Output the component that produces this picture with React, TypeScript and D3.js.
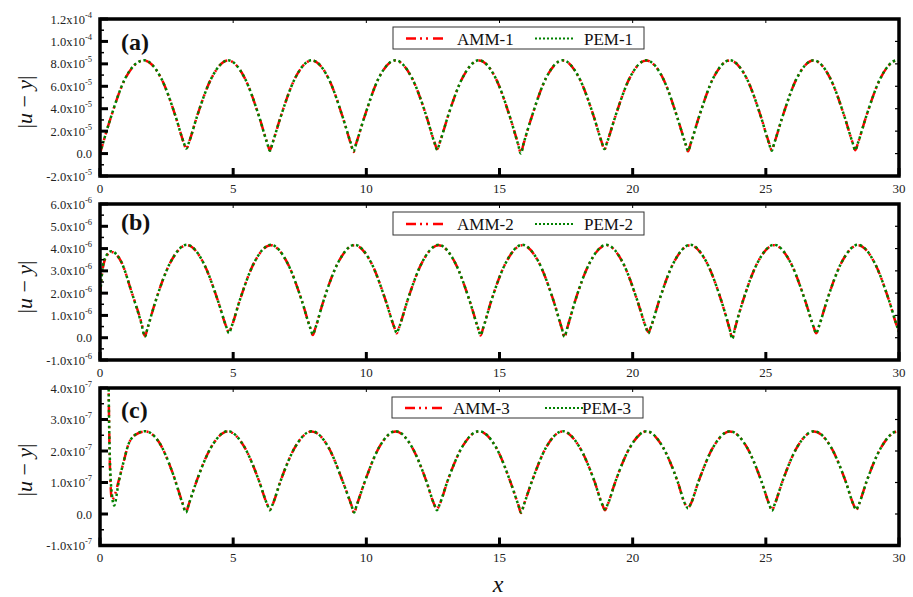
import React from "react";
import * as d3 from "d3";

// ---------- DATA ----------
const xTicks = [0, 5, 10, 15, 20, 25, 30];

// Panel (a): |u - y| in units of 1e-5
const xA = [0, 0.35, 0.95, 1.65, 2.29, 2.84, 3.14,
  3.24, 3.34, 3.64, 4.19, 4.81, 5.43, 5.98, 6.28,
  6.38, 6.48, 6.78, 7.33, 7.95, 8.57, 9.12, 9.42,
  9.52, 9.62, 9.92, 10.47, 11.09, 11.71, 12.26, 12.56,
  12.66, 12.76, 13.06, 13.61, 14.23, 14.85, 15.40, 15.70,
  15.80, 15.90, 16.20, 16.75, 17.37, 17.99, 18.54, 18.84,
  18.94, 19.04, 19.34, 19.89, 20.51, 21.13, 21.68, 21.98,
  22.08, 22.18, 22.48, 23.03, 23.65, 24.27, 24.82, 25.12,
  25.22, 25.32, 25.62, 26.17, 26.79, 27.41, 27.96, 28.26,
  28.36, 28.46, 28.76, 29.31, 29.93, 30];
const ammA = [0, 2.8, 6.7, 8.3, 6.75, 3.3, 1.0,
  0.4, 1.0, 3.3, 6.75, 8.3, 6.75, 3.25, 0.95,
  0.3, 0.95, 3.25, 6.75, 8.3, 6.75, 3.2, 0.85,
  0.15, 0.9, 3.2, 6.75, 8.3, 6.75, 3.3, 1.0,
  0.4, 1.0, 3.3, 6.75, 8.3, 6.75, 3.2, 0.85,
  0.05, 0.85, 3.2, 6.75, 8.3, 6.75, 3.3, 1.0,
  0.35, 1.0, 3.25, 6.75, 8.3, 6.75, 3.2, 0.9,
  0.2, 0.9, 3.2, 6.75, 8.3, 6.75, 3.25, 0.95,
  0.3, 0.95, 3.25, 6.75, 8.3, 6.75, 3.25, 0.95,
  0.3, 0.95, 3.25, 6.75, 8.3, 8.28];
const pemA = [0, 2.8, 6.72, 8.32, 6.75, 3.3, 1.0,
  0.45, 1.0, 3.3, 6.75, 8.32, 6.75, 3.25, 0.9,
  0.25, 0.95, 3.25, 6.75, 8.32, 6.75, 3.2, 0.9,
  0.2, 0.9, 3.2, 6.75, 8.32, 6.75, 3.3, 0.95,
  0.35, 1.0, 3.3, 6.75, 8.32, 6.75, 3.2, 0.8,
  0.0, 0.85, 3.2, 6.75, 8.32, 6.75, 3.3, 1.0,
  0.4, 1.0, 3.25, 6.75, 8.32, 6.75, 3.2, 0.9,
  0.25, 0.9, 3.2, 6.75, 8.32, 6.75, 3.25, 0.9,
  0.25, 0.95, 3.25, 6.75, 8.32, 6.75, 3.25, 0.95,
  0.3, 0.95, 3.25, 6.75, 8.32, 8.3];

// Panel (b): |u - y| in units of 1e-6
const xB = [0, 0.08, 0.2, 0.42, 0.8, 1.2, 1.55,
  1.69, 1.79, 2.09, 2.64, 3.26, 3.88, 4.43, 4.74,
  4.84, 4.94, 5.24, 5.79, 6.41, 7.03, 7.58, 7.89,
  7.99, 8.09, 8.39, 8.94, 9.56, 10.18, 10.73, 11.04,
  11.14, 11.24, 11.54, 12.09, 12.71, 13.33, 13.88, 14.19,
  14.29, 14.39, 14.69, 15.24, 15.86, 16.48, 17.03, 17.34,
  17.44, 17.54, 17.84, 18.39, 19.01, 19.63, 20.18, 20.49,
  20.59, 20.69, 20.99, 21.54, 22.16, 22.78, 23.33, 23.64,
  23.74, 23.84, 24.14, 24.69, 25.31, 25.93, 26.48, 26.79,
  26.89, 26.99, 27.29, 27.84, 28.46, 29.08, 29.63, 29.93, 30];
const ammB = [1.9, 2.9, 3.55, 3.85, 3.4, 2.0, 0.7,
  0.08, 0.45, 1.65, 3.37, 4.15, 3.37, 1.65, 0.5,
  0.25, 0.5, 1.65, 3.37, 4.15, 3.37, 1.65, 0.45,
  0.12, 0.45, 1.65, 3.37, 4.15, 3.37, 1.65, 0.5,
  0.2, 0.5, 1.65, 3.37, 4.15, 3.37, 1.65, 0.45,
  0.1, 0.45, 1.65, 3.37, 4.15, 3.37, 1.65, 0.42,
  0.02, 0.42, 1.65, 3.37, 4.15, 3.37, 1.65, 0.5,
  0.25, 0.5, 1.65, 3.37, 4.15, 3.37, 1.65, 0.4,
  0.0, 0.42, 1.65, 3.37, 4.15, 3.37, 1.65, 0.5,
  0.2, 0.5, 1.65, 3.37, 4.15, 3.37, 1.65, 0.5, 0.3];
const pemB = [1.8, 2.95, 3.6, 3.88, 3.4, 2.0, 0.65,
  0.05, 0.45, 1.65, 3.37, 4.17, 3.37, 1.65, 0.5,
  0.2, 0.5, 1.65, 3.37, 4.17, 3.37, 1.65, 0.45,
  0.15, 0.45, 1.65, 3.37, 4.17, 3.37, 1.65, 0.5,
  0.22, 0.5, 1.65, 3.37, 4.17, 3.37, 1.65, 0.45,
  0.12, 0.45, 1.65, 3.37, 4.17, 3.37, 1.65, 0.42,
  0.05, 0.42, 1.65, 3.37, 4.17, 3.37, 1.65, 0.5,
  0.2, 0.5, 1.65, 3.37, 4.17, 3.37, 1.65, 0.4,
  -0.05, 0.42, 1.65, 3.37, 4.17, 3.37, 1.65, 0.5,
  0.2, 0.5, 1.65, 3.37, 4.17, 3.37, 1.65, 0.5, 0.25];

// Panel (c): |u - y| in units of 1e-7
const xC = [0.3, 0.34, 0.38, 0.45, 0.53, 0.7, 0.9, 1.06, 1.3, 1.69, 2.2, 2.75, 3.1,
  3.23, 3.33, 3.63, 4.18, 4.80, 5.42, 5.97, 6.28,
  6.38, 6.48, 6.78, 7.33, 7.95, 8.57, 9.12, 9.44,
  9.54, 9.64, 9.94, 10.49, 11.10, 11.71, 12.25, 12.55,
  12.65, 12.75, 13.05, 13.60, 14.23, 14.86, 15.41, 15.71,
  15.81, 15.91, 16.21, 16.76, 17.38, 18.00, 18.56, 18.86,
  18.96, 19.06, 19.36, 19.91, 20.52, 21.13, 21.68, 21.98,
  22.08, 22.18, 22.48, 23.03, 23.65, 24.28, 24.83, 25.13,
  25.23, 25.33, 25.63, 26.18, 26.81, 27.44, 27.99, 28.29,
  28.39, 28.49, 28.79, 29.34, 29.96, 30];
const ammC = [6.0, 3.0, 1.3, 0.45, 0.55, 1.05, 1.7, 2.19, 2.5, 2.62, 2.3, 1.25, 0.35,
  0.06, 0.3, 1.05, 2.13, 2.62, 2.13, 1.05, 0.3,
  0.15, 0.3, 1.05, 2.13, 2.62, 2.13, 1.02, 0.28,
  0.03, 0.28, 1.02, 2.13, 2.62, 2.13, 1.05, 0.3,
  0.15, 0.3, 1.05, 2.13, 2.62, 2.13, 1.02, 0.28,
  0.03, 0.28, 1.02, 2.13, 2.62, 2.13, 1.05, 0.3,
  0.12, 0.3, 1.05, 2.13, 2.62, 2.13, 1.05, 0.3,
  0.2, 0.32, 1.05, 2.13, 2.62, 2.13, 1.05, 0.3,
  0.12, 0.3, 1.05, 2.13, 2.62, 2.13, 1.05, 0.3,
  0.12, 0.3, 1.05, 2.13, 2.62, 2.6];
const pemC = [6.0, 3.0, 1.5, 0.6, 0.27, 1.0, 1.7, 2.19, 2.5, 2.63, 2.3, 1.25, 0.33,
  0.05, 0.3, 1.05, 2.13, 2.63, 2.13, 1.05, 0.3,
  0.12, 0.3, 1.05, 2.13, 2.63, 2.13, 1.02, 0.28,
  0.05, 0.28, 1.02, 2.13, 2.63, 2.13, 1.05, 0.3,
  0.12, 0.3, 1.05, 2.13, 2.63, 2.13, 1.02, 0.28,
  0.05, 0.28, 1.02, 2.13, 2.63, 2.13, 1.05, 0.3,
  0.15, 0.3, 1.05, 2.13, 2.63, 2.13, 1.05, 0.3,
  0.18, 0.32, 1.05, 2.13, 2.63, 2.13, 1.05, 0.3,
  0.1, 0.3, 1.05, 2.13, 2.63, 2.13, 1.05, 0.3,
  0.14, 0.3, 1.05, 2.13, 2.63, 2.6];

// y-axis tick values (in the panel's unit) and their labels
const yTicksA = [-2, 0, 2, 4, 6, 8, 10, 12];
const yLabelsA = ["-2.0x10|-5", "0.0", "2.0x10|-5", "4.0x10|-5", "6.0x10|-5", "8.0x10|-5", "1.0x10|-4", "1.2x10|-4"];
const yTicksB = [-1, 0, 1, 2, 3, 4, 5, 6];
const yLabelsB = ["-1.0x10|-6", "0.0", "1.0x10|-6", "2.0x10|-6", "3.0x10|-6", "4.0x10|-6", "5.0x10|-6", "6.0x10|-6"];
const yTicksC = [-1, 0, 1, 2, 3, 4];
const yLabelsC = ["-1.0x10|-7", "0.0", "1.0x10|-7", "2.0x10|-7", "3.0x10|-7", "4.0x10|-7"];

const panelTags = ["(a)", "(b)", "(c)"];
const ammNames = ["AMM-1", "AMM-2", "AMM-3"];
const pemNames = ["PEM-1", "PEM-2", "PEM-3"];

// ---------- LAYOUT ----------
const W = 913, H = 597;
const X0 = 100, X1 = 899;
const SERIF = "'Liberation Serif', 'Times New Roman', serif";

const panels = [
  { key: "a", top: 19, bottom: 176, dom: [-2, 12], ticks: yTicksA, labels: yLabelsA, x: xA, amm: ammA, pem: pemA,
    tagY: 50, legend: { x: 393, y: 27, w: 251, h: 22, s1: 406, t1: 457, s2: 535, t2: 584 }, titleY: 102 },
  { key: "b", top: 204, bottom: 360, dom: [-1, 6], ticks: yTicksB, labels: yLabelsB, x: xB, amm: ammB, pem: pemB,
    tagY: 230, legend: { x: 393, y: 212, w: 251, h: 23, s1: 406, t1: 457, s2: 535, t2: 584 }, titleY: 287 },
  { key: "c", top: 388, bottom: 545.5, dom: [-1, 4], ticks: yTicksC, labels: yLabelsC, x: xC, amm: ammC, pem: pemC,
    tagY: 418, legend: { x: 392, y: 397, w: 251, h: 21, s1: 405, t1: 453, s2: 545, t2: 582 }, titleY: 470 },
];

const AMM_DASH = "10,4,2,4,2,5";
const PEM_DASH = "2.5,2.8";

function Panel({ p, idx }: { p: any; idx: number }) {
  const xs = d3.scaleLinear().domain([0, 30]).range([X0, X1]);
  const ys = d3.scaleLinear().domain(p.dom).range([p.bottom, p.top]);
  const mk = (vals: number[]) =>
    d3.line<number>().x((_d, i) => xs(p.x[i])).y((d) => ys(d)).curve(d3.curveMonotoneX)(vals) || "";
  const clipId = "clip-" + p.key;
  const minors: number[] = [];
  for (let i = 0; i < p.ticks.length - 1; i++) minors.push((p.ticks[i] + p.ticks[i + 1]) / 2);
  const L = p.legend;
  const ly = L.y + L.h / 2 + 0.5;
  return (
    <g>
      <defs>
        <clipPath id={clipId}>
          <rect x={X0} y={p.top} width={X1 - X0} height={p.bottom - p.top} />
        </clipPath>
      </defs>
      <g clipPath={`url(#${clipId})`}>
        <path d={mk(p.amm)} fill="none" stroke="#ff0000" strokeWidth={2.5} strokeDasharray={AMM_DASH} />
        <path d={mk(p.pem)} fill="none" stroke="#008000" strokeWidth={2.5} strokeDasharray={PEM_DASH} />
      </g>
      {/* y ticks */}
      {p.ticks.map((t: number, i: number) => (
        <g key={"yt" + i}>
          <line x1={X0} x2={X0 + 8} y1={ys(t)} y2={ys(t)} stroke="#000" strokeWidth={3} />
          <line x1={X1} x2={X1 - 4} y1={ys(t)} y2={ys(t)} stroke="#000" strokeWidth={1.2} />
          <text x={92} y={ys(t) + 4.5} textAnchor="end" fontFamily={SERIF} fontSize={12.5} fill="#222">
            {p.labels[i].split("|")[0]}
            {p.labels[i].includes("|") && (
              <tspan fontSize={8.5} dy={-6}>{p.labels[i].split("|")[1]}</tspan>
            )}
          </text>
        </g>
      ))}
      {minors.map((t, i) => (
        <line key={"ym" + i} x1={X0} x2={X0 + 4} y1={ys(t)} y2={ys(t)} stroke="#000" strokeWidth={1.5} />
      ))}
      {/* x ticks */}
      {xTicks.map((t, i) => (
        <g key={"xt" + i}>
          <line x1={xs(t)} x2={xs(t)} y1={p.bottom} y2={p.bottom - 8} stroke="#000" strokeWidth={3} />
          <line x1={xs(t)} x2={xs(t)} y1={p.top} y2={p.top + 4} stroke="#000" strokeWidth={1} />
          <text x={xs(t)} y={p.bottom + 16.5} textAnchor="middle" fontFamily={SERIF} fontSize={13} fill="#222">
            {t}
          </text>
        </g>
      ))}
      {/* frame */}
      <rect x={X0} y={p.top} width={X1 - X0} height={p.bottom - p.top} fill="none" stroke="#000" strokeWidth={3.5} />
      {/* tag */}
      <text x={121} y={p.tagY} fontFamily={SERIF} fontWeight="bold" fontSize={24} fill="#111">
        {panelTags[idx]}
      </text>
      {/* legend */}
      <rect x={L.x} y={L.y} width={L.w} height={L.h} fill="#fff" stroke="#333" strokeWidth={1} />
      <line x1={L.s1} x2={L.s1 + 38} y1={ly} y2={ly} stroke="#ff0000" strokeWidth={2.5} strokeDasharray={AMM_DASH} />
      <text x={L.t1} y={ly + 6} fontFamily={SERIF} fontSize={17} fill="#111">{ammNames[idx]}</text>
      <line x1={L.s2} x2={L.s2 + 40} y1={ly} y2={ly} stroke="#008000" strokeWidth={2} strokeDasharray="2,2" />
      <text x={L.t2} y={ly + 6} fontFamily={SERIF} fontSize={17} fill="#111">{pemNames[idx]}</text>
      {/* y title */}
      <text transform={`translate(32,${p.titleY}) rotate(-90)`} textAnchor="middle" fontFamily={SERIF} fontSize={22} fill="#111">
        |<tspan fontStyle="italic">u</tspan> − <tspan fontStyle="italic">y</tspan>|
      </text>
    </g>
  );
}

export default function App() {
  return (
    <svg width={W} height={H} style={{ position: "absolute", left: 0, top: 0, background: "#fff" }}>
      <rect x={0} y={0} width={W} height={H} fill="#fff" />
      {panels.map((p, i) => (
        <Panel key={p.key} p={p} idx={i} />
      ))}
      <text x={498} y={592} textAnchor="middle" fontFamily={SERIF} fontStyle="italic" fontSize={24} fill="#111">
        x
      </text>
    </svg>
  );
}
